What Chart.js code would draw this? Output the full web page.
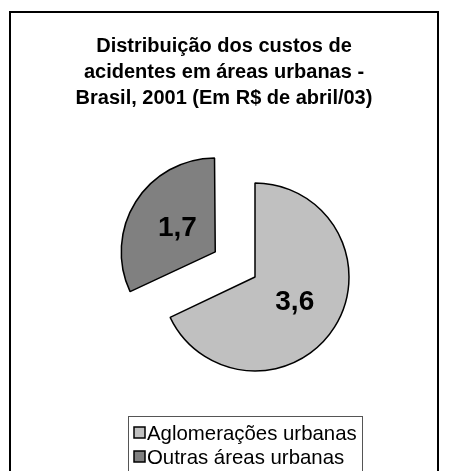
<!DOCTYPE html>
<html>
<head>
  <meta charset="UTF-8">
  <title>Distribuição dos custos de acidentes</title>
  <script src="https://cdn.jsdelivr.net/npm/chart.js@4.4.1/dist/chart.umd.min.js"></script>
  <style>
    body {
      margin: 0;
      padding: 0;
      background: #ffffff;
    }
    #chartContainer {
      width: 450px;
      height: 471px;
    }
  </style>
</head>
<body>
  <div id="chartContainer">
    <canvas id="myChart" width="450" height="471"></canvas>
  </div>

  <script>
    // Dados do gráfico (R$ bilhões)
    const categorias = ['Aglomerações urbanas', 'Outras áreas urbanas'];
    const valores = [3.6, 1.7];
    const rotulos = ['3,6', '1,7'];
    const cores = ['#C0C0C0', '#808080'];
    const titulo = [
      'Distribuição dos custos de',
      'acidentes em áreas urbanas -',
      'Brasil, 2001 (Em R$ de abril/03)'
    ];

    const fonte = 'Arial, "Liberation Sans", sans-serif';

    // Moldura, título, rótulos e legenda no estilo do Excel
    const estiloExcel = {
      id: 'estiloExcel',
      afterUpdate(chart) {
        // o Chart.js aumenta o raio da fatia destacada; compensa para manter o mesmo raio
        chart.getDatasetMeta(0).data.forEach(arc => {
          const desloc = (arc.options.offset || 0) / 4;
          const circ = arc.endAngle - arc.startAngle;
          const fix = 1 - Math.sin(Math.min(Math.PI, circ));
          arc.outerRadius -= desloc * fix;
        });
      },
      beforeDraw(chart) {
        const ctx = chart.ctx;
        ctx.save();
        ctx.fillStyle = '#ffffff';
        ctx.fillRect(0, 0, chart.width, chart.height);
        ctx.strokeStyle = '#000000';
        ctx.lineWidth = 2;
        ctx.strokeRect(10, 12, 428, 480);

        // título
        ctx.fillStyle = '#000000';
        ctx.font = 'bold 20px ' + fonte;
        ctx.textAlign = 'center';
        ctx.textBaseline = 'middle';
        titulo.forEach((linha, i) => {
          ctx.fillText(linha, 224, 46 + i * 26);
        });
        ctx.restore();
      },
      afterDatasetsDraw(chart) {
        const ctx = chart.ctx;
        const meta = chart.getDatasetMeta(0);
        ctx.save();
        ctx.fillStyle = '#000000';
        ctx.font = 'bold 28px ' + fonte;
        ctx.textAlign = 'center';
        ctx.textBaseline = 'middle';
        meta.data.forEach((arc, i) => {
          // o Chart.js desloca a fatia em offset / 4
          const meio = (arc.startAngle + arc.endAngle) / 2;
          const dist = arc.options.offset / 4 + arc.outerRadius * 0.5;
          const x = arc.x + Math.cos(meio) * dist;
          const y = arc.y + Math.sin(meio) * dist;
          ctx.fillText(rotulos[i], x, y);
        });

        // legenda
        ctx.strokeStyle = '#555555';
        ctx.lineWidth = 1;
        ctx.strokeRect(128.5, 416.5, 234, 80);
        ctx.font = '20.4px ' + fonte;
        ctx.textAlign = 'left';
        categorias.forEach((nome, i) => {
          const y = 433 + i * 24;
          ctx.fillStyle = cores[i];
          ctx.fillRect(134, y - 6, 11, 11);
          ctx.strokeStyle = '#000000';
          ctx.lineWidth = 1.5;
          ctx.strokeRect(134, y - 6, 11, 11);
          ctx.fillStyle = '#000000';
          ctx.fillText(nome, 147, y + 1);
        });
        ctx.restore();
      }
    };

    const ctx = document.getElementById('myChart').getContext('2d');
    new Chart(ctx, {
      type: 'pie',
      data: {
        labels: categorias,
        datasets: [{
          data: valores,
          backgroundColor: cores,
          borderColor: '#000000',
          borderWidth: 1.5,
          offset: [0, 188]
        }]
      },
      options: {
        responsive: false,
        animation: false,
        radius: 94,
        layout: {
          padding: { left: 105, right: 45, top: 150, bottom: 67 }
        },
        plugins: {
          legend: { display: false },
          title: { display: false },
          tooltip: { enabled: false }
        }
      },
      plugins: [estiloExcel]
    });
  </script>
</body>
</html>
